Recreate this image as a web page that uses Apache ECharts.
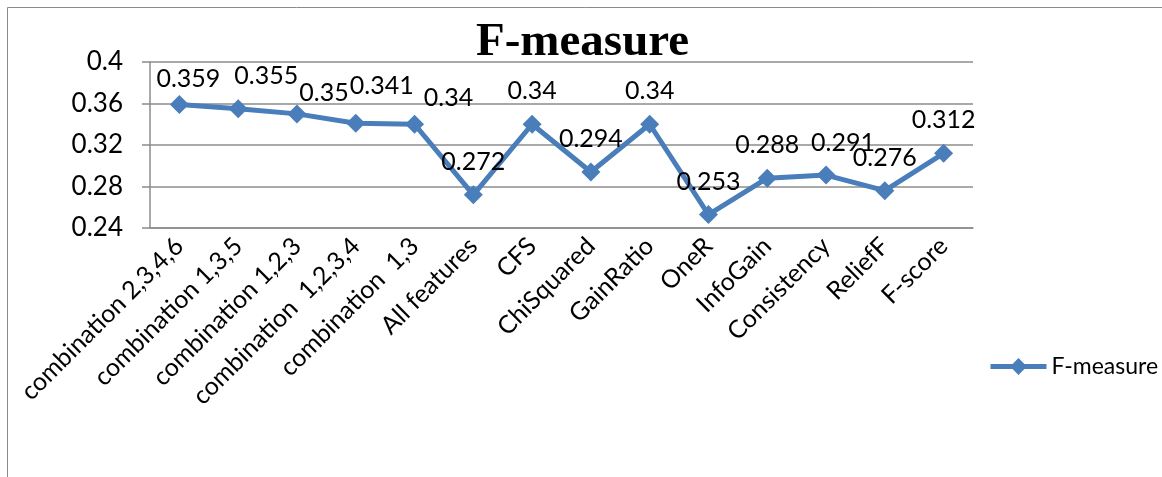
<!DOCTYPE html>
<html>
<head>
<meta charset="utf-8">
<script src="https://cdn.jsdelivr.net/npm/echarts@6/dist/echarts.min.js"></script>
<style>
  html, body { margin: 0; padding: 0; background: #fff; }
  #chart { width: 1162px; height: 477px; }
</style>
</head>
<body>
<div id="chart"></div>
<script>
// Feature-selection methods and their F-measure scores
const categories = [
  'combination 2,3,4,6', 'combination 1,3,5', 'combination 1,2,3',
  'combination  1,2,3,4', 'combination  1,3', 'All features', 'CFS',
  'ChiSquared', 'GainRatio', 'OneR', 'InfoGain', 'Consistency',
  'ReliefF', 'F-score'
];
const fMeasure = [0.359, 0.355, 0.35, 0.341, 0.34, 0.272, 0.34, 0.294, 0.34, 0.253, 0.288, 0.291, 0.276, 0.312];
const yTicks = { min: 0.24, max: 0.4, step: 0.04 };
const seriesName = 'F-measure';

// Nudges for value labels that sit off the default "above" spot
const labelNudge = {
  0: [9, 7], 1: [28, 0], 2: [27, 12], 3: [26, -4], 4: [34, 7], 11: [17, 1]
};

const FONT = 'Lato';
const FS = 25;
const BLUE = '#4A7EBB';
const GRID = '#8C8C8C';

const chart = echarts.init(document.getElementById('chart'), null, { renderer: 'canvas' });

chart.setOption({
  backgroundColor: '#fff',
  animation: false,
  title: {
    text: 'F-measure',
    left: 471,
    top: 14,
    textStyle: { fontFamily: 'Liberation Serif', fontWeight: 'bold', fontSize: 47, color: '#000' }
  },
  graphic: [{
    type: 'rect',
    shape: { x: 7.5, y: 7.5, width: 1200, height: 500 },
    style: { fill: null, stroke: '#8A8A8A', lineWidth: 1 },
    silent: true
  }],
  legend: {
    data: [seriesName],
    left: 983,
    top: 350,
    itemWidth: 56,
    itemHeight: 21,
    itemGap: 4,
    lineStyle: { width: 5 },
    textStyle: { fontFamily: FONT, fontSize: 23, color: '#000' }
  },
  grid: { left: 150, right: 189, top: 62, bottom: 249 },
  xAxis: {
    type: 'category',
    data: categories,
    boundaryGap: true,
    axisLine: { lineStyle: { color: GRID, width: 1.5 } },
    axisTick: { alignWithLabel: false, length: 8, lineStyle: { color: GRID, width: 1.5 } },
    axisLabel: {
      interval: 0,
      rotate: 45,
      margin: 14,
      fontFamily: FONT,
      fontSize: FS,
      color: '#000'
    }
  },
  yAxis: {
    type: 'value',
    min: yTicks.min,
    max: yTicks.max,
    interval: yTicks.step,
    axisLine: { show: true, lineStyle: { color: GRID, width: 1.5 } },
    axisTick: { show: true, length: 8, lineStyle: { color: GRID, width: 1.5 } },
    splitLine: { lineStyle: { color: GRID, width: 1.5 } },
    axisLabel: {
      margin: 27,
      fontFamily: FONT,
      fontSize: 26,
      color: '#000',
      formatter: v => String(+v.toFixed(2))
    }
  },
  series: [{
    name: seriesName,
    type: 'line',
    data: fMeasure,
    symbol: 'diamond',
    symbolSize: 19,
    itemStyle: { color: BLUE },
    lineStyle: { color: BLUE, width: 5 },
    label: {
      show: true,
      position: 'top',
      distance: 11,
      fontFamily: FONT,
      fontSize: FS,
      color: '#000',
      formatter: p => String(p.value)
    },
    labelLayout: p => {
      const n = labelNudge[p.dataIndex];
      return n ? { dx: n[0], dy: n[1], hideOverlap: false } : { hideOverlap: false };
    }
  }]
});
</script>
</body>
</html>
